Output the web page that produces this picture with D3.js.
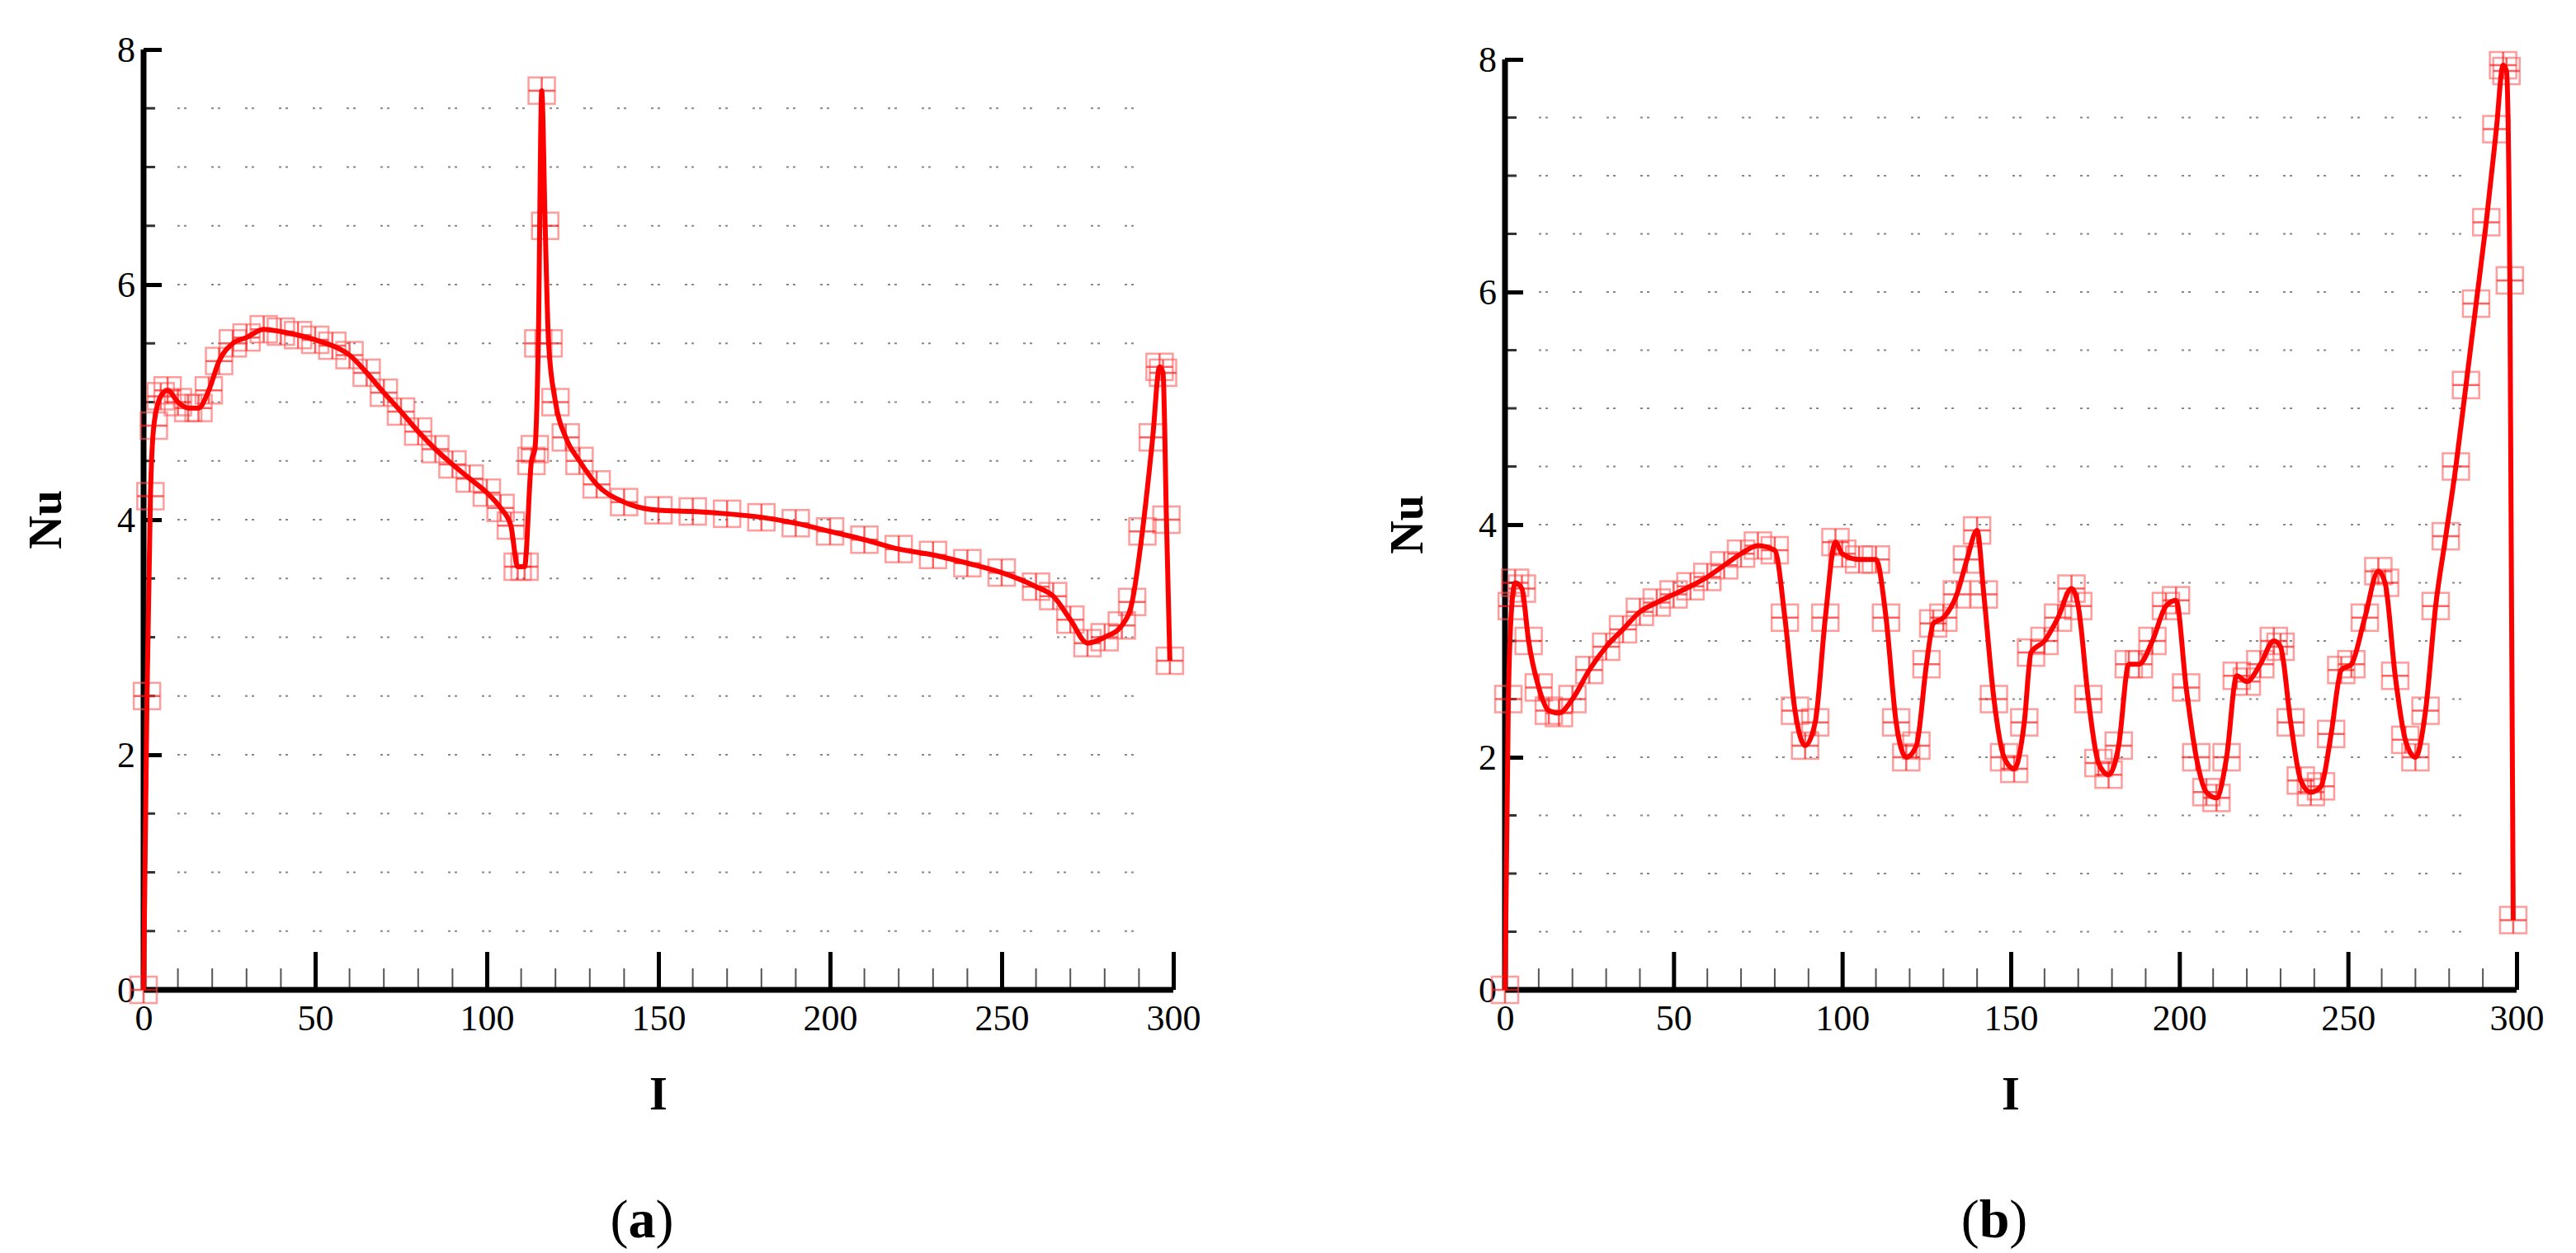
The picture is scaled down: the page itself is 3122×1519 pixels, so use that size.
<!DOCTYPE html>
<html><head><meta charset="utf-8">
<script src="https://cdn.jsdelivr.net/npm/d3@7/dist/d3.min.js"></script>
<style>body{margin:0;background:#fff}svg{display:block}svg text{font-family:"Liberation Serif","Times New Roman",serif !important}</style>
</head><body><svg id="c" width="3122" height="1519"></svg>
<script>
const aI  = [0,1,2,3,5,7,10,13,16,19,22,26,30,35,40,45,50,55,60,65,70,75,80,85,90,95,100,104,107,109,111,113,114,115,116,117,118,120,123,127,132,140,150,160,170,180,190,200,210,220,230,240,250,260,265,270,275,280,285,288,291,294,296,297,298,299];
const aNu = [0,2.5,4.2,4.8,5.05,5.1,5.0,4.95,4.95,5.1,5.35,5.5,5.55,5.62,5.6,5.57,5.53,5.48,5.4,5.25,5.08,4.92,4.75,4.6,4.47,4.35,4.23,4.1,3.95,3.6,3.6,4.5,4.6,5.5,7.65,6.5,5.5,5.0,4.7,4.5,4.3,4.15,4.08,4.07,4.05,4.02,3.97,3.9,3.83,3.75,3.7,3.63,3.55,3.43,3.35,3.15,2.95,3.0,3.1,3.3,3.9,4.7,5.3,5.25,4.0,2.8];
const bI  = [0,1,2,3,5,7,10,13,16,20,25,30,35,40,45,50,55,60,65,70,75,80,83,86,89,92,95,98,100,105,110,113,116,119,122,125,127,130,134,137,140,142,145,148,151,154,156,160,164,168,170,173,176,179,182,185,188,192,196,199,202,205,208,211,214,217,220,224,228,230,233,236,239,242,245,248,251,255,259,261,264,267,270,273,276,279,282,285,288,291,294,296,297,298,299];
const bNu = [0,2.5,3.3,3.5,3.45,3.0,2.6,2.4,2.38,2.5,2.75,2.95,3.1,3.25,3.33,3.4,3.47,3.55,3.65,3.75,3.82,3.78,3.2,2.4,2.1,2.3,3.2,3.85,3.75,3.7,3.7,3.2,2.3,2.0,2.1,2.8,3.15,3.2,3.4,3.7,3.95,3.4,2.5,2.0,1.9,2.3,2.9,3.0,3.2,3.45,3.3,2.5,1.95,1.85,2.1,2.8,2.8,3.0,3.3,3.35,2.6,2.0,1.7,1.65,2.0,2.7,2.65,2.8,3.0,2.95,2.3,1.8,1.7,1.75,2.2,2.75,2.8,3.2,3.6,3.5,2.7,2.15,2.0,2.4,3.3,3.9,4.5,5.2,5.9,6.6,7.4,7.95,7.9,6.1,0.6];
const xTicks = [0,50,100,150,200,250,300];
const yTicks = [0,2,4,6,8];
const panels = [
 {I:aI,Nu:aNu,x0:174,x1:1422,y0:1200,y1:60,label:"a"},
 {I:bI,Nu:bNu,x0:1824,x1:3050,y0:1200,y1:72,label:"b"}
];
const svg = d3.select("#c");
panels.forEach(p=>{
  const x = d3.scaleLinear().domain([0,300]).range([p.x0,p.x1]);
  const y = d3.scaleLinear().domain([0,8]).range([p.y0,p.y1]);
  const g = svg.append("g");
  d3.range(0.5,8,0.5).forEach(v=>{
    g.append("line").attr("x1",p.x0).attr("x2",x(290)).attr("y1",y(v)).attr("y2",y(v))
     .attr("stroke","#888").attr("stroke-width",2).attr("stroke-dasharray","3,5,3,30");
  });
  d3.range(10,300,10).filter(v=>v%50).forEach(v=>{
    g.append("line").attr("x1",x(v)).attr("x2",x(v)).attr("y1",p.y0).attr("y2",p.y0-26).attr("stroke","#555").attr("stroke-width",2);
  });
  d3.range(0.5,8,0.5).filter(v=>v%2).forEach(v=>{
    g.append("line").attr("x1",p.x0).attr("x2",p.x0+14).attr("y1",y(v)).attr("y2",y(v)).attr("stroke","#333").attr("stroke-width",3);
  });
  const xa = d3.axisBottom(x).tickValues(xTicks).tickSize(-46).tickPadding(18).tickFormat(d3.format("d"));
  const ya = d3.axisLeft(y).tickValues(yTicks).tickSize(-22).tickPadding(10).tickFormat(d3.format("d"));
  const gx = g.append("g").attr("transform",`translate(0,${p.y0})`).call(xa);
  const gy = g.append("g").attr("transform",`translate(${p.x0},0)`).call(ya);
  [gx,gy].forEach(a=>{
    a.attr("font-family",null);
    a.select(".domain").attr("stroke","#000").attr("stroke-width",7);
    a.selectAll(".tick line").attr("stroke","#000").attr("stroke-width",5);
    a.selectAll("text").attr("font-size",44).attr("fill","#000");
  });
  gx.select(".domain").attr("d",`M${p.x0},0H${p.x1}`);
  gy.select(".domain").attr("d",`M0,${p.y0}V${p.y1}`);
  const pts = p.I.map((d,i)=>[d,p.Nu[i]]);
  const s = 16;
  g.selectAll(".sq").data(pts).enter().append("rect")
   .attr("x",d=>x(d[0])-s).attr("y",d=>y(d[1])-s).attr("width",2*s).attr("height",2*s)
   .attr("fill","none").attr("stroke","#ff5a5a").attr("stroke-opacity",0.6).attr("stroke-width",2.5);
  g.selectAll(".pl").data(pts).enter().append("path")
   .attr("d",d=>`M${x(d[0])-s},${y(d[1])}h${2*s}M${x(d[0])},${y(d[1])-s}v${2*s}`)
   .attr("stroke","#ff2020").attr("stroke-opacity",0.7).attr("stroke-width",2.5);
  g.append("path").datum(pts).attr("fill","none").attr("stroke","#ff0000").attr("stroke-width",6)
   .attr("d",d3.line().x(d=>x(d[0])).y(d=>y(d[1])).curve(d3.curveMonotoneX));
  const cx = (p.x0+p.x1)/2;
  svg.append("text").attr("x",cx).attr("y",1345).attr("text-anchor","middle").attr("font-size",56).attr("font-weight","bold").text("I");
  svg.append("text").attr("transform",`translate(${p.x0-100},${(p.y0+p.y1)/2}) rotate(-90)`).attr("text-anchor","middle").attr("font-size",56).attr("font-weight","bold").text("Nu");
  const t = svg.append("text").attr("x",cx-20).attr("y",1500).attr("text-anchor","middle").attr("font-size",66);
  t.append("tspan").text("(");
  t.append("tspan").attr("font-weight","bold").text(p.label);
  t.append("tspan").text(")");
});
</script></body></html>
